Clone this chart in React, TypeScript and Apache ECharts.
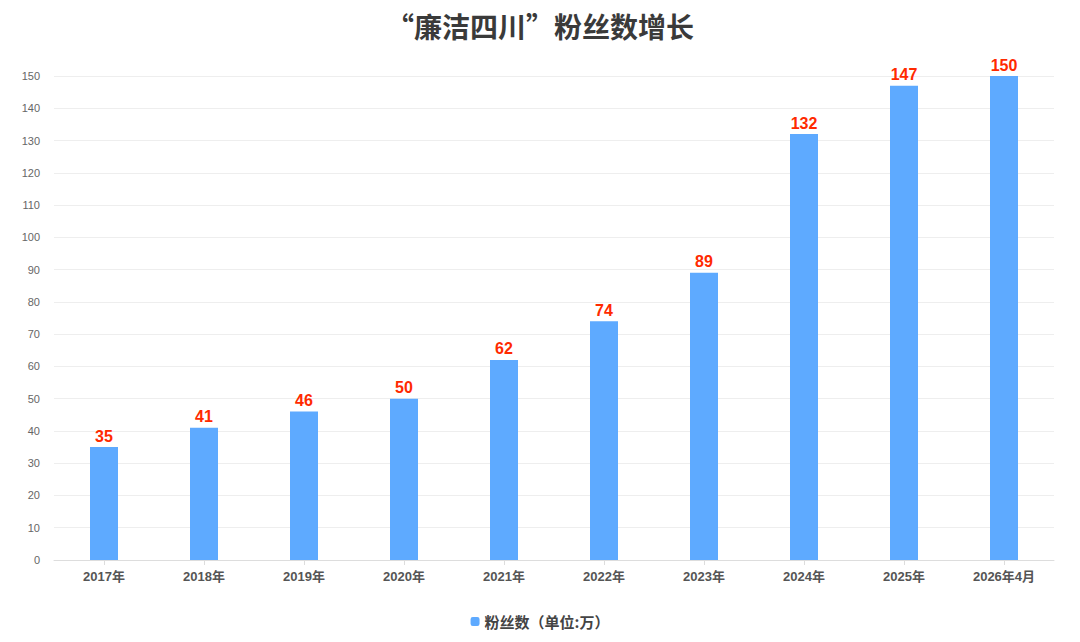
import React, { useEffect, useRef } from "react";
import * as echarts from "echarts";

const categories = ["2017年", "2018年", "2019年", "2020年", "2021年", "2022年", "2023年", "2024年", "2025年", "2026年4月"];
const values = [35, 41, 46, 50, 62, 74, 89, 132, 147, 150];
const seriesName = "粉丝数（单位:万）";
const titleText = "“廉洁四川”粉丝数增长";

const mixFont = "'Liberation Sans', 'Noto Sans CJK SC', sans-serif";

export default function App() {
  const ref = useRef<HTMLDivElement>(null);
  useEffect(() => {
    document.body.style.margin = "0";
    const chart = echarts.init(ref.current!, null, { renderer: "svg" });
    chart.setOption({
      animation: false,
      backgroundColor: "#ffffff",
      textStyle: { fontFamily: mixFont },
      title: {
        text: titleText,
        left: "center",
        top: 7,
        textStyle: { fontSize: 28, fontWeight: "bold", color: "#3a3a3a", fontFamily: "'Noto Sans CJK SC', sans-serif" },
      },
      legend: {
        bottom: 8,
        left: "center",
        itemWidth: 9,
        itemHeight: 9,
        icon: "roundRect",
        textStyle: { fontSize: 15, fontWeight: "bold", color: "#444", fontFamily: "'Noto Sans CJK SC', sans-serif" },
        data: [seriesName],
      },
      grid: { left: 54, right: 26, top: 76, bottom: 82 },
      xAxis: {
        type: "category",
        data: categories,
        axisLine: { lineStyle: { color: "#dddddd" } },
        axisTick: { show: true, alignWithLabel: true, lineStyle: { color: "#dddddd" } },
        axisLabel: { fontSize: 13, fontWeight: "bold", color: "#555", margin: 10, fontFamily: mixFont },
      },
      yAxis: {
        type: "value",
        min: 0,
        max: 150,
        interval: 10,
        axisLine: { show: false },
        axisTick: { show: false },
        axisLabel: { fontSize: 11, color: "#666", margin: 14, fontFamily: mixFont },
        splitLine: { lineStyle: { color: "#eeeeee" } },
      },
      series: [
        {
          name: seriesName,
          type: "bar",
          data: values,
          barWidth: 28,
          itemStyle: { color: "#5eaaff" },
          label: {
            show: true,
            position: "top",
            distance: 3,
            color: "#ff2a00",
            fontSize: 16,
            fontWeight: "bold",
            fontFamily: mixFont,
          },
        },
      ],
    });
    return () => chart.dispose();
  }, []);
  return <div ref={ref} style={{ width: 1080, height: 642 }} />;
}
